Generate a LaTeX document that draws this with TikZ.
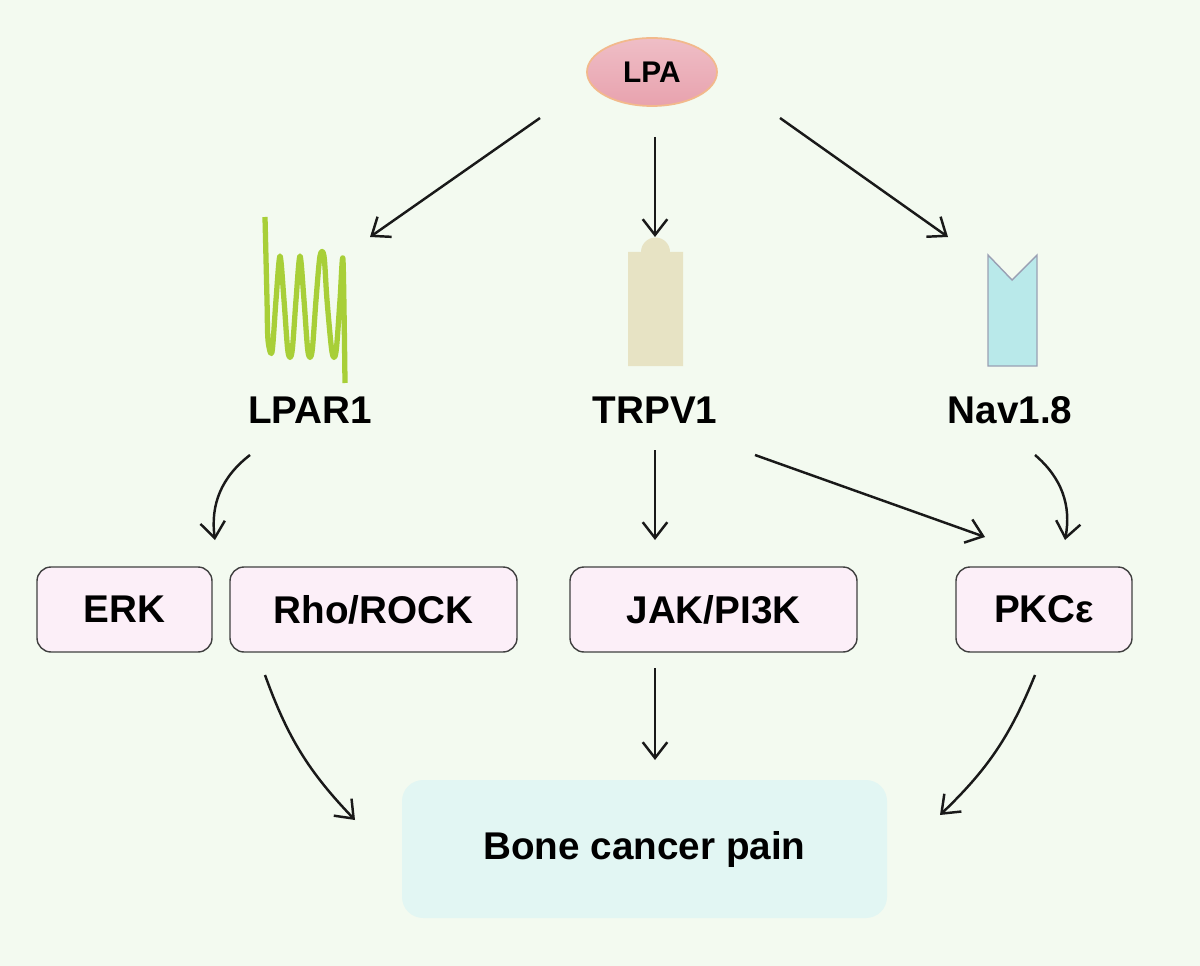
\documentclass[tikz,border=0pt]{standalone}
\usepackage{fontspec}
\setmainfont{Liberation Sans}
\usetikzlibrary{shapes.geometric,arrows.meta}
\definecolor{bgcol}{HTML}{F3FAF0}
\definecolor{lpafill}{HTML}{E8A2AE}
\definecolor{lpaline}{HTML}{F2B98C}
\definecolor{coilcol}{HTML}{A8CF38}
\definecolor{trpvfill}{HTML}{E7E3C4}
\definecolor{navfill}{HTML}{B9E9EA}
\definecolor{navline}{HTML}{9AA0B4}
\definecolor{boxfill}{HTML}{FCEFF8}
\definecolor{painfill}{HTML}{E2F6F3}
\tikzset{
  lbl/.style={font=\fontsize{22}{26}\selectfont\bfseries},
  kin/.style={draw=black!75, line width=0.8pt, fill=boxfill, rounded corners=8pt,
    minimum height=85*0.02cm, lbl, inner sep=0pt},
  arr/.style={-{Straight Barb[length=9pt,width=14pt]}, line width=1.4pt, black!90},
}
\begin{document}
\begin{tikzpicture}[x=0.02cm,y=-0.02cm]
\fill[bgcol] (0,0) rectangle (1200,966);
\useasboundingbox (0,0) rectangle (1200,966);

% ligand
\node[ellipse, draw=lpaline, line width=1pt, top color=lpafill!70, bottom color=lpafill,
  minimum width=130*0.02cm, minimum height=68*0.02cm, lbl, font=\fontsize{17}{20}\selectfont\bfseries] (lpa) at (652,72) {LPA};

% receptors
\draw[coilcol, line width=3pt, line join=round] plot[smooth, tension=0.5] coordinates {
  (265,217) (267,300) (268,340) (272,352) (276,300) (280,256) (284,300) (288,352)
  (292,352) (296,300) (300,256) (304,300) (308,352) (312,352) (316,300) (320,256)
  (324,256) (327,300) (332,352) (336,352) (340,300) (343,260) (345,383)};
\fill[trpvfill] (628,252) -- (628,366) -- (683,366) -- (683,252)
  -- (670,252) arc (0:-180:14.5) -- cycle;
\filldraw[fill=navfill, draw=navline, line width=0.8pt] (988,255) -- (988,366) -- (1037,366)
  -- (1037,255) -- (1012,280) -- cycle;

\node[lbl] (lpar1) at (310,410) {LPAR1};
\node[lbl] (trpv1) at (655,410) {TRPV1};
\node[lbl] (nav) at (1010,410) {Nav1.8};

% kinases
\node[kin, minimum width=175*0.02cm] (erk) at (124.5,609.5) {ERK};
\node[kin, minimum width=287*0.02cm] (rho) at (373.5,609.5) {Rho/ROCK};
\node[kin, minimum width=287*0.02cm] (jak) at (713.5,609.5) {JAK/PI3K};
\node[kin, minimum width=176*0.02cm] (pkc) at (1044,609.5) {PKCε};

\node[fill=painfill, rounded corners=12pt, minimum width=485*0.02cm, minimum height=138*0.02cm,
  lbl] (pain) at (644.5,849) {Bone cancer pain};

% arrow ends
\coordinate (a1) at (540,118); \coordinate (b1) at (370,237);
\coordinate (a2) at (655,137); \coordinate (b2) at (655,237);
\coordinate (a3) at (780,118); \coordinate (b3) at (948,237);
\coordinate (c1) at (250,455); \coordinate (d1) at (215,540);
\coordinate (c2) at (655,450); \coordinate (d2) at (655,540);
\coordinate (c3) at (755,455); \coordinate (d3) at (985,537);
\coordinate (c4) at (1035,455); \coordinate (d4) at (1065,540);
\coordinate (e1) at (265,675); \coordinate (f1) at (355,820);
\coordinate (e2) at (655,668); \coordinate (f2) at (655,760);
\coordinate (e3) at (1035,675); \coordinate (f3) at (940,815);

\draw[arr] (a1) -- (b1);
\draw[arr] (a2) -- (b2);
\draw[arr] (a3) -- (b3);
\draw[arr] (c1) to[bend right=30] (d1);
\draw[arr] (c2) -- (d2);
\draw[arr] (c3) -- (d3);
\draw[arr] (c4) to[bend left=30] (d4);
\draw[arr] (e1) to[bend right=12] (f1);
\draw[arr] (e2) -- (f2);
\draw[arr] (e3) to[bend left=12] (f3);
\end{tikzpicture}
\end{document}
